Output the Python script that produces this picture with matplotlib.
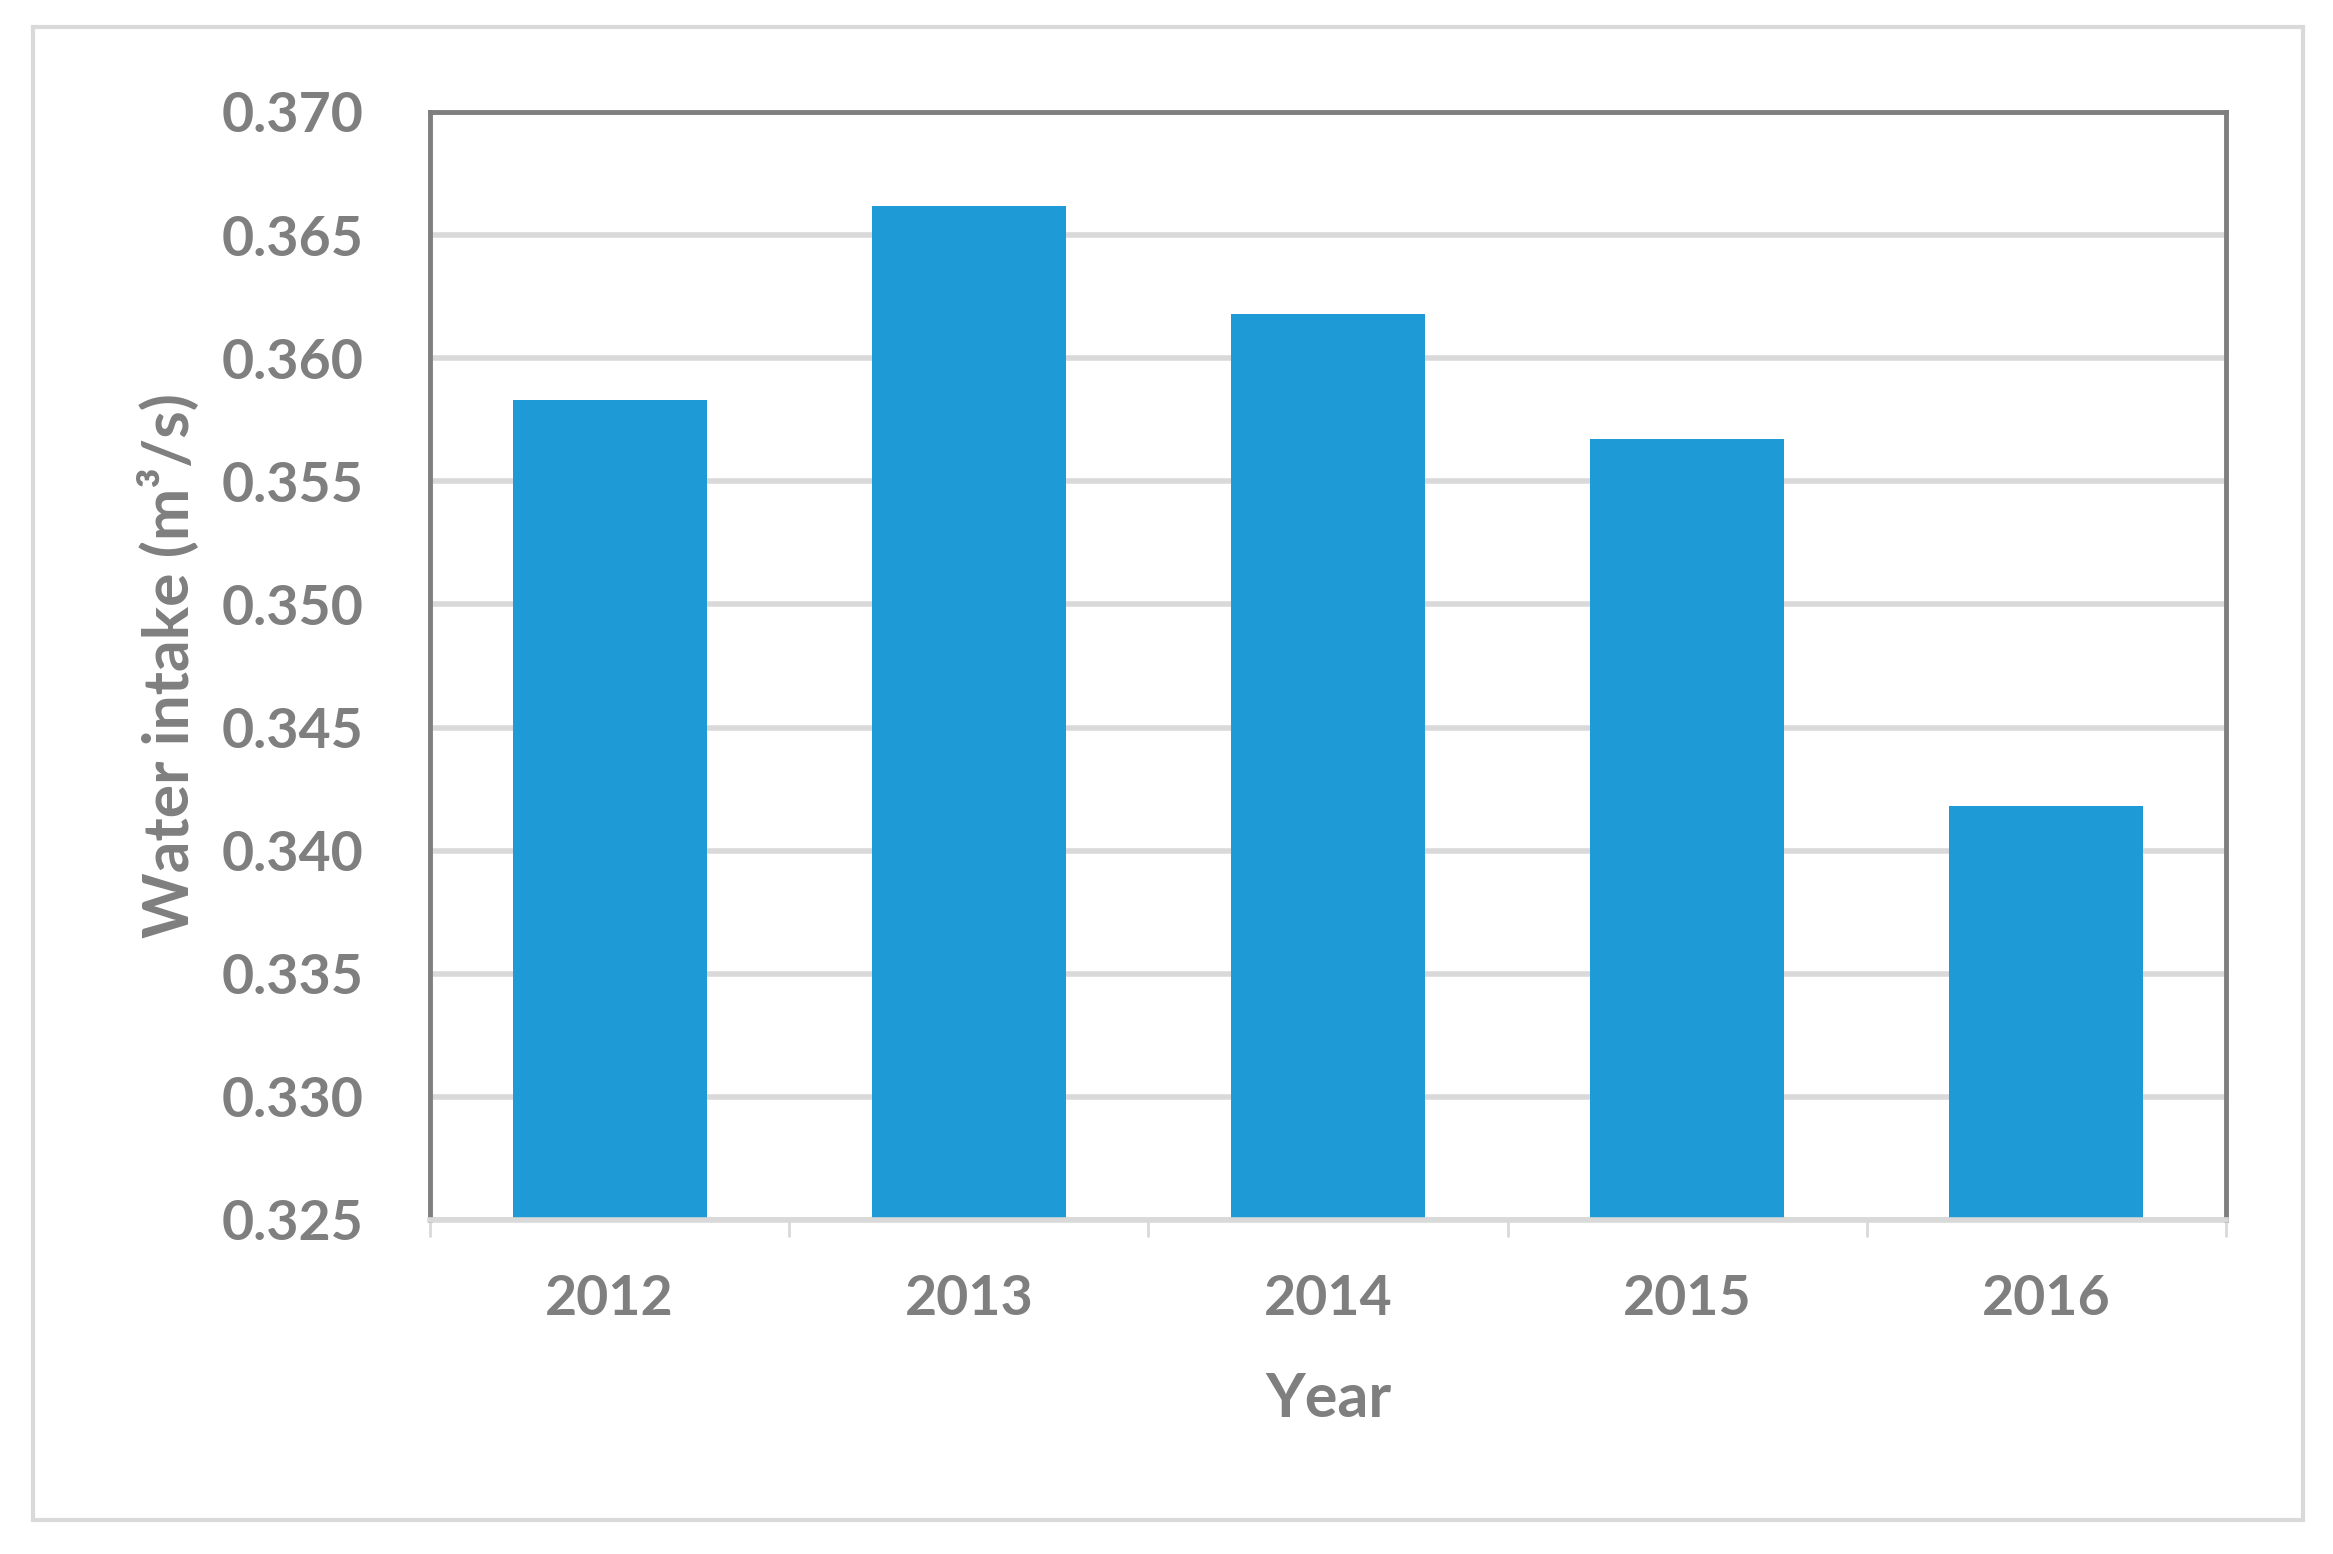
import matplotlib.pyplot as plt
from matplotlib.patches import Rectangle
from matplotlib.ticker import FixedLocator

years = ["2012", "2013", "2014", "2015", "2016"]
intake = [0.3583, 0.3662, 0.3618, 0.3567, 0.3418]
yticks = [0.325, 0.330, 0.335, 0.340, 0.345, 0.350, 0.355, 0.360, 0.365, 0.370]

grey_txt = "#7f7f7f"
grey_line = "#d9d9d9"
bar_col = "#1e9bd7"

plt.rcParams['font.family'] = ['Lato', 'DejaVu Sans']

fig = plt.figure(figsize=(23.33, 15.54), dpi=100)
ax = fig.add_axes([430/2333, 1 - 1220/1554, (2226-430)/2333, (1220-112)/1554])

x = list(range(len(years)))
ax.bar(x, intake, width=0.54, color=bar_col, zorder=2)

ax.set_xlim(-0.5, len(years) - 0.5)
ax.set_ylim(0.325, 0.370)
ax.set_yticks(yticks)
ax.set_yticklabels([f"{v:.3f}" for v in yticks])
ax.set_xticks(x)
ax.set_xticklabels(years)
ax.xaxis.set_minor_locator(FixedLocator([i - 0.5 for i in range(len(years) + 1)]))

ax.tick_params(axis='y', length=0, pad=48, labelsize=40, labelcolor=grey_txt)
ax.tick_params(axis='x', which='major', length=0, pad=39, labelsize=40, labelcolor=grey_txt)
ax.tick_params(axis='x', which='minor', length=12, width=2, color=grey_line)
for lab in ax.get_xticklabels() + ax.get_yticklabels():
    lab.set_fontweight('bold')

ax.grid(axis='y', color=grey_line, linewidth=4, zorder=0)
ax.set_axisbelow(True)

for s in ['left', 'right', 'top']:
    ax.spines[s].set_color(grey_txt)
    ax.spines[s].set_linewidth(3.5)
ax.spines['bottom'].set_color(grey_line)
ax.spines['bottom'].set_linewidth(4)

ax.set_ylabel("Water intake (m³/s)", fontsize=45, color=grey_txt, fontweight='bold')
ax.yaxis.set_label_coords(-0.128, 0.5)
ax.set_xlabel("Year", fontsize=44, color=grey_txt, fontweight='bold')
ax.xaxis.set_label_coords(0.5, -0.136)

# outer chart frame
fig.patches.append(Rectangle((33/2333, 1 - 1520/1554), (2303-33)/2333, (1520-27)/1554,
                             transform=fig.transFigure, fill=False,
                             edgecolor=grey_line, linewidth=3))

fig.savefig("out.png", dpi=100)
